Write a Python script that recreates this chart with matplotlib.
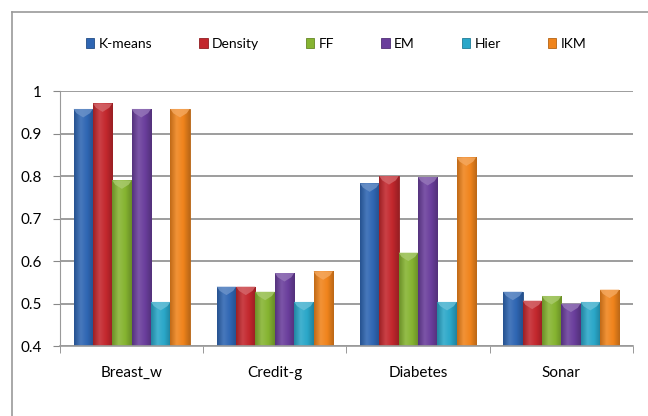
import numpy as np
import matplotlib
matplotlib.use('Agg')
import matplotlib.pyplot as plt
from matplotlib.colors import to_rgb, LinearSegmentedColormap
from matplotlib.patches import Rectangle, Polygon

plt.rcParams['font.family'] = ['Lato', 'DejaVu Sans']

# données
datasets = ['Breast_w', 'Credit-g', 'Diabetes', 'Sonar']
methods = ['K-means', 'Density', 'FF', 'EM', 'Hier', 'IKM']
kmeans = [0.958, 0.540, 0.783, 0.528]
density = [0.971, 0.540, 0.800, 0.507]
ff = [0.790, 0.528, 0.620, 0.518]
em = [0.958, 0.572, 0.798, 0.500]
hier = [0.504, 0.504, 0.504, 0.504]
ikm = [0.958, 0.576, 0.844, 0.533]
series = [kmeans, density, ff, em, hier, ikm]
colors = ['#2f66b3', '#c3272d', '#86b431', '#6a3e9c', '#2aa7c9', '#f0841c']

y_ticks = [0.4, 0.5, 0.6, 0.7, 0.8, 0.9, 1]
y_labels = ['0.4', '0.5', '0.6', '0.7', '0.8', '0.9', '1']


def shade(c, f):
    r = np.array(to_rgb(c))
    if f < 1:
        return tuple(r * f)
    return tuple(r + (1 - r) * (f - 1))


fig = plt.figure(figsize=(6.48, 4.16), dpi=100)
ax = fig.add_axes([0.0926, 0.168, 0.884, 0.613])

n = len(methods)
gap = 1.4
bw = 1.0 / (n + gap)
x = np.arange(len(datasets))
base = 0.4
handles = []

for i, (vals, col) in enumerate(zip(series, colors)):
    xs = x - 0.5 + bw * gap / 2 + bw * (i + 0.5)
    bars = ax.bar(xs, np.array(vals) - base, bw, bottom=base, color=col,
                  edgecolor=shade(col, 0.75), linewidth=0.6, zorder=2)
    cmap = LinearSegmentedColormap.from_list(
        'g', [shade(col, 0.8), shade(col, 1.12), col, shade(col, 0.78)])
    grad = np.linspace(0, 1, 64).reshape(1, -1)
    for b in bars:
        x0, w, h = b.get_x(), b.get_width(), b.get_height()
        im = ax.imshow(grad, extent=(x0, x0 + w, base, base + h), cmap=cmap,
                       aspect='auto', zorder=2.1, interpolation='bicubic')
        im.set_clip_path(b)
        # reflet en chevron en haut de la barre
        top = base + h
        pts = [(x0, top), (x0 + w, top), (x0 + w * 0.85, top - 0.010),
               (x0 + w * 0.5, top - 0.020), (x0 + w * 0.15, top - 0.010)]
        ax.add_patch(Polygon(pts, closed=True, color=shade(col, 1.3),
                             alpha=0.8, linewidth=0, zorder=2.2))
    handles.append(Rectangle((0, 0), 1, 1, facecolor=col,
                             edgecolor=shade(col, 0.75), linewidth=0.6))

ax.set_xlim(-0.5, len(datasets) - 0.5)
ax.set_ylim(0.4, 1.0)
ax.set_yticks(y_ticks)
ax.set_yticklabels(y_labels)
ax.set_xticks(x)
ax.set_xticklabels(datasets)
ax.set_xticks(np.arange(len(datasets) + 1) - 0.5, minor=True)
ax.tick_params(axis='x', which='major', length=0, pad=14, labelsize=11)
ax.tick_params(axis='x', which='minor', length=5, color='#888888', direction='out')
ax.tick_params(axis='y', length=5, color='#888888', labelsize=11, pad=8)
ax.yaxis.grid(True, color='#8c8c8c', linewidth=1.2, zorder=0)
ax.set_axisbelow(True)
for s in ['top', 'right']:
    ax.spines[s].set_visible(False)
ax.spines['left'].set_color('#9a9a9a')
ax.spines['bottom'].set_color('#9a9a9a')
ax.spines['bottom'].set_linewidth(1.2)

leg = fig.legend(handles, methods, loc='center', bbox_to_anchor=(0.5185, 0.895),
                 ncol=6, frameon=False, fontsize=10, handlelength=0.6,
                 handleheight=0.7, handletextpad=0.3, columnspacing=3.4)

# cadre du graphique
fig.add_artist(plt.Line2D([0.0185, 1.0], [0.971, 0.971], color='#9a9a9a',
                          linewidth=1.2, transform=fig.transFigure))
fig.add_artist(plt.Line2D([0.0185, 0.0185], [0.0, 0.971], color='#9a9a9a',
                          linewidth=1.2, transform=fig.transFigure))

fig.savefig('out.png', dpi=100)
